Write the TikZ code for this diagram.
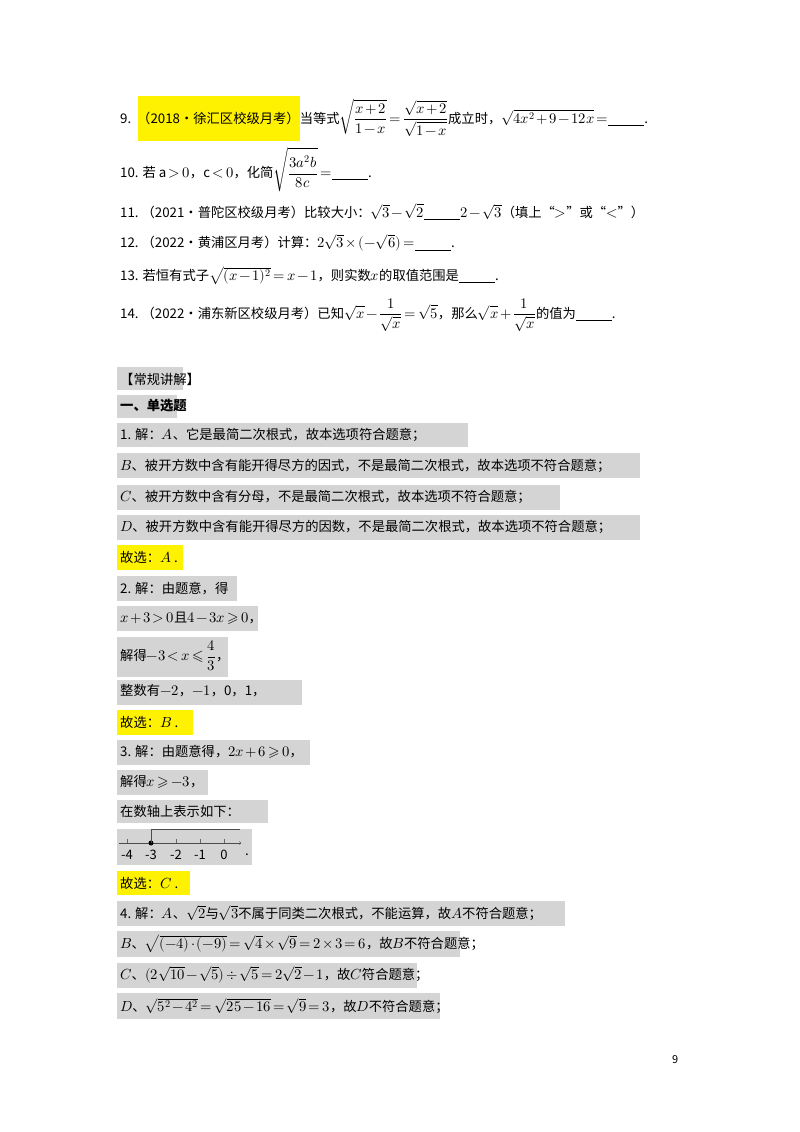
\documentclass[tikz,border=0pt]{standalone}
\usepackage{amsmath}
\usepackage{fontspec}
\usepackage{unicode-math}
\setmainfont{Noto Sans CJK SC}
\setmathfont{Latin Modern Math}[Scale=1.1]
\medmuskip=2mu plus 1mu
\thickmuskip=3mu plus 1mu
\begin{document}
\begin{tikzpicture}[x=1pt,y=-1pt,
  t/.style={anchor=west,inner sep=0pt,font=\fontsize{13.3}{15}\selectfont},
  gb/.style={fill=black!17,draw=none},
  yb/.style={fill=yellow,draw=none}]
\useasboundingbox (0,0) rectangle (800,1132);
\fill[white] (0,0) rectangle (800,1132);
% highlights
\fill[yb] (138,96) rectangle (300,141);
\fill[gb] (117,367) rectangle (183,390);
\fill[gb] (117,395) rectangle (177,418);
\fill[gb] (117,423) rectangle (468,447);
\fill[gb] (117,453) rectangle (640,478);
\fill[gb] (117,485) rectangle (560,510);
\fill[gb] (117,515) rectangle (640,540);
\fill[yb] (117,545) rectangle (183,570);
\fill[gb] (117,576) rectangle (237,601);
\fill[gb] (117,606) rectangle (258,631);
\fill[gb] (117,637) rectangle (228,677);
\fill[gb] (117,680) rectangle (302,705);
\fill[yb] (117,710) rectangle (193,735);
\fill[gb] (117,740) rectangle (310,765);
\fill[gb] (117,770) rectangle (208,795);
\fill[gb] (117,800) rectangle (268,823);
\fill[gb] (117,829) rectangle (252,865);
\fill[yb] (117,871) rectangle (190,895);
\fill[gb] (117,901) rectangle (565,926);
\fill[gb] (117,931) rectangle (460,957);
\fill[gb] (117,963) rectangle (417,988);
\fill[gb] (117,993) rectangle (440,1019);
% questions
\node[t] (q9) at (120,118) {9.\ \ （2018•徐汇区校级月考）当等式$\displaystyle\sqrt{\frac{x+2}{1-x}}=\frac{\sqrt{x+2}}{\sqrt{1-x}}$成立时，$\sqrt{4x^2+9-12x}=$\underline{\hspace{36pt}}.};
\node[t] (q10) at (120,170) {10. 若 $\mathrm{a}>0$，$\mathrm{c}<0$，化简$\displaystyle\sqrt{\dfrac{3a^2b}{8c}}$ $=$\underline{\hspace{36pt}}.};
\node[t] (q11) at (120,212) {11.\ （2021•普陀区校级月考）比较大小：$\sqrt3-\sqrt2$\underline{\hspace{36pt}}$2-\sqrt3$（填上“$>$”或“$<$”）};
\node[t] (q12) at (120,243) {12.\ （2022•黄浦区月考）计算：$2\sqrt3\times(-\sqrt6)=$\underline{\hspace{36pt}}.};
\node[t] (q13) at (120,276) {13. 若恒有式子$\sqrt{(x-1)^2}=x-1$，则实数$x$的取值范围是\underline{\hspace{36pt}}.};
\node[t] (q14) at (120,315) {14.\ （2022•浦东新区校级月考）已知$\displaystyle\sqrt{x}-\frac{1}{\sqrt{x}}=\sqrt5$，那么$\displaystyle\sqrt{x}+\frac{1}{\sqrt{x}}$的值为\underline{\hspace{36pt}}.};
% answers
\node[t] (h) at (120,379) {【常规讲解】};
\node[t] (s) at (120,406) {\bfseries 一、单选题};
\node[t] (a1) at (120,435) {1. 解：$A$、它是最简二次根式，故本选项符合题意；};
\node[t] (a1b) at (120,466) {$B$、被开方数中含有能开得尽方的因式，不是最简二次根式，故本选项不符合题意；};
\node[t] (a1c) at (120,497) {$C$、被开方数中含有分母，不是最简二次根式，故本选项不符合题意；};
\node[t] (a1d) at (120,527) {$D$、被开方数中含有能开得尽方的因数，不是最简二次根式，故本选项不符合题意；};
\node[t] (a1e) at (120,557) {故选：$A$ .};
\node[t] (a2) at (120,589) {2. 解：由题意，得};
\node[t] (a2b) at (120,618) {$x+3>0$且$4-3x\geqslant0$，};
\node[t] (a2c) at (120,656) {解得$\displaystyle -3<x\leqslant\frac43$，};
\node[t] (a2d) at (120,691) {整数有$-2$，$-1$，0，1，};
\node[t] (a2e) at (120,722) {故选：$B$ .};
\node[t] (a3) at (120,752) {3. 解：由题意得，$2x+6\geqslant0$，};
\node[t] (a3b) at (120,782) {解得$x\geqslant-3$，};
\node[t] (a3c) at (120,811) {在数轴上表示如下：};
% number line
\coordinate (L) at (119,843); \coordinate (R) at (241,843);
\draw[black!70,->] (L) -- (R);
\foreach \x/\l in {127/-4,151/-3,176/-2,200/-1,224/0}{
  \draw[black!60] (\x,839) -- (\x,843);
  \node[font=\fontsize{13}{15}\selectfont,inner sep=0pt] at (\x,855) {\l};}
\node[circle,fill=black,inner sep=0pt,minimum size=5pt] (dot) at (151,843) {};
\draw[black!70] (dot.center) -- (151,829) -- (240,829);
\node[t] (a3d) at (245,855) {.};
\node[t] (a3e) at (120,883) {故选：$C$ .};
\node[t] (a4) at (120,913) {4. 解：$A$、$\sqrt2$与$\sqrt3$不属于同类二次根式，不能运算，故$A$不符合题意；};
\node[t] (a4b) at (120,944) {$B$、$\sqrt{(-4)\cdot(-9)}=\sqrt4\times\sqrt9=2\times3=6$，故$B$不符合题意；};
\node[t] (a4c) at (120,975) {$C$、$(2\sqrt{10}-\sqrt5)\div\sqrt5=2\sqrt2-1$，故$C$符合题意；};
\node[t] (a4d) at (120,1006) {$D$、$\sqrt{5^2-4^2}=\sqrt{25-16}=\sqrt9=3$，故$D$不符合题意；};
\node[t,font=\fontsize{11}{13}\selectfont] (pg) at (672,1060) {9};
\end{tikzpicture}
\end{document}
